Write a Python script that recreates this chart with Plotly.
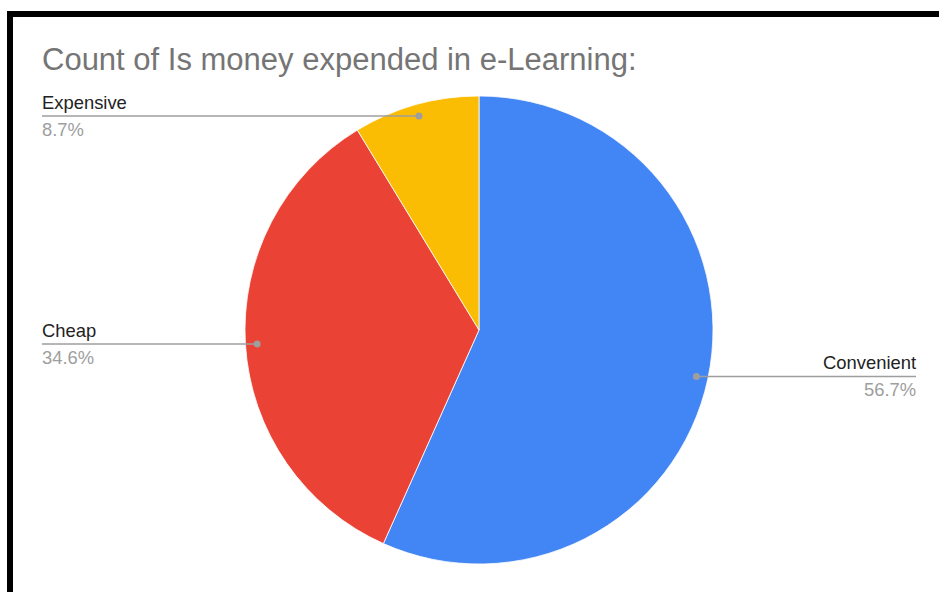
import math
import plotly.graph_objects as go

# Share of responses per category (percent)
categories = ["Convenient", "Cheap", "Expensive"]
shares = [56.7, 34.6, 8.7]
colors = ["#4285F4", "#EA4335", "#FBBC04"]
title_text = "Count of Is money expended in e-Learning:"

W, H = 939, 592


def px(x):
    return x / W


def py(y):
    return 1 - y / H


# pie geometry in pixels
cx, cy, r = 479, 330, 234

fig = go.Figure(
    go.Pie(
        labels=categories,
        values=shares,
        sort=False,
        direction="clockwise",
        rotation=0,
        marker=dict(colors=colors, line=dict(color="white", width=0.8)),
        textinfo="none",
        hoverinfo="label+percent",
        showlegend=False,
        domain=dict(x=[px(cx - r), px(cx + r)], y=[py(cy + r), py(cy - r)]),
    )
)

shapes = []
annotations = []
line_col = "#9e9e9e"
left_x, right_x = 42, 916
total = sum(shares)
cum = 0.0
for name, val in zip(categories, shares):
    mid = (cum + val / 2) / total * 2 * math.pi
    cum += val
    dx = cx + 0.95 * r * math.sin(mid)
    dy = cy - 0.95 * r * math.cos(mid)
    on_right = dx > cx
    end_x = right_x if on_right else left_x
    text_x = end_x + 2 if on_right else end_x - 2
    shapes.append(dict(type="line", xref="paper", yref="paper",
                       x0=px(dx), y0=py(dy), x1=px(end_x), y1=py(dy),
                       line=dict(color=line_col, width=1.6)))
    shapes.append(dict(type="circle", xref="paper", yref="paper",
                       x0=px(dx - 3.5), x1=px(dx + 3.5),
                       y0=py(dy + 3.5), y1=py(dy - 3.5),
                       fillcolor=line_col, line=dict(width=0)))
    anchor = "right" if on_right else "left"
    annotations.append(dict(xref="paper", yref="paper", x=px(text_x), y=py(dy - 1),
                            xanchor=anchor, yanchor="bottom", showarrow=False,
                            text=name, font=dict(size=18.4, color="#222222")))
    annotations.append(dict(xref="paper", yref="paper", x=px(text_x), y=py(dy + 1),
                            xanchor=anchor, yanchor="top", showarrow=False,
                            text=f"{val:.1f}%", font=dict(size=18.4, color="#9e9e9e")))

# black frame along the top and left edges
shapes.append(dict(type="rect", xref="paper", yref="paper",
                   x0=px(7), x1=px(W + 5), y0=py(17), y1=py(11),
                   fillcolor="black", line=dict(width=0)))
shapes.append(dict(type="rect", xref="paper", yref="paper",
                   x0=px(7), x1=px(13), y0=py(H + 5), y1=py(11),
                   fillcolor="black", line=dict(width=0)))

annotations.append(dict(xref="paper", yref="paper", x=px(40), y=py(60),
                        xanchor="left", yanchor="middle", showarrow=False,
                        text=title_text, font=dict(size=31, color="#757575")))

fig.update_layout(
    width=W, height=H,
    margin=dict(l=0, r=0, t=0, b=0),
    paper_bgcolor="white",
    plot_bgcolor="white",
    font=dict(family="Liberation Sans, Arial, sans-serif"),
    shapes=shapes,
    annotations=annotations,
)

fig.write_html("out.html")
